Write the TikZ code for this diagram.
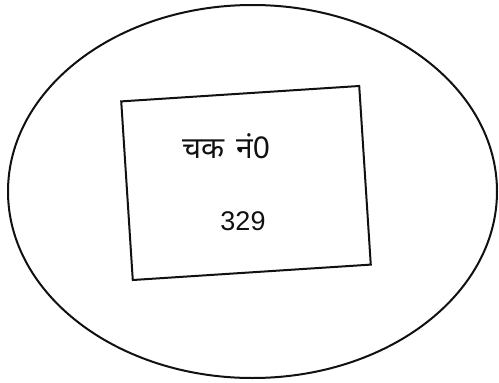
\documentclass[tikz,border=0pt]{standalone}
\usepackage{fontspec}
\setmainfont{Liberation Sans}
\newfontfamily\hindi[Script=Devanagari]{Noto Sans}
\usetikzlibrary{shapes.geometric}
\def\wLine{2pt}
\definecolor{cInk}{HTML}{111111}
\tikzset{
  plot/.style={draw=cInk, line width=\wLine, ellipse, inner sep=0pt},
  field/.style={draw=cInk, line width=\wLine, rectangle, inner sep=0pt},
  label/.style={text=cInk, inner sep=0pt, font=\fontsize{27}{30}\selectfont},
}

\begin{document}
\begin{tikzpicture}[x=1pt, y=-1pt]
% page frame, 499 x 383, y runs down
\useasboundingbox (0,0) rectangle (499,383);
\node[plot, minimum width=489pt, minimum height=373pt] (plot) at (252.5,191.5) {};
% tilted block inside the plot
\node[field, minimum width=238.5pt, minimum height=179pt, rotate=3.7] (block) at (246,183) {};
\node[label, font=\hindi\fontsize{30}{33}\selectfont] (name) at (226,146) {चक\hspace{12pt}नं0};
\node[label] (num) at (243,221) {329};
\end{tikzpicture}
\end{document}
